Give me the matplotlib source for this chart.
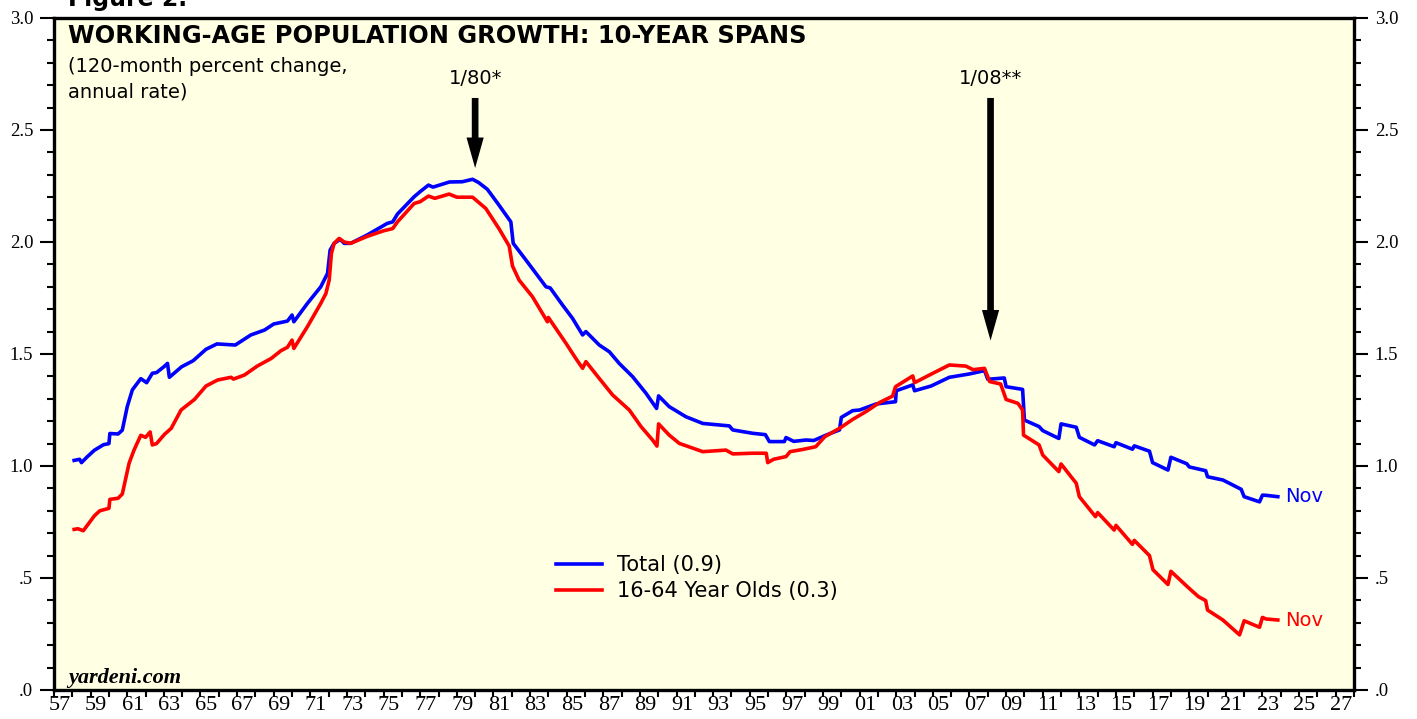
import numpy as np
import matplotlib.pyplot as plt

# 120-month percent change, annual rate
total_years = [1958.1, 1958.4, 1958.5, 1958.8, 1959.2, 1959.7, 1960.0, 1960.05, 1960.5, 1960.73,
               1961.0, 1961.28, 1961.74, 1962.06, 1962.37, 1962.6, 1963.0, 1963.2, 1963.3, 1963.97,
               1964.6, 1965.3, 1965.9, 1966.9, 1967.75, 1968.5, 1969.0, 1969.75, 1970.0, 1970.1,
               1970.84, 1971.57, 1971.94, 1972.08, 1972.3, 1972.63, 1972.85, 1973.2, 1974.1, 1975.2,
               1975.5, 1975.76, 1976.67, 1977.0, 1977.45, 1977.7, 1978.6, 1979.3, 1979.86, 1980.2,
               1980.67, 1981.3, 1981.95, 1982.08, 1982.77, 1983.32, 1983.87, 1984.1, 1984.77, 1985.32,
               1985.87, 1986.05, 1986.78, 1987.33, 1987.87, 1988.6, 1989.33, 1989.91, 1990.02, 1990.6,
               1991.51, 1992.43, 1993.88, 1994.07, 1995.16, 1995.85, 1996.07, 1996.89, 1996.98, 1997.4,
               1998.07, 1998.5, 1999.17, 1999.9, 2000.0, 2000.62, 2001.0, 2001.9, 2002.96, 2003.0,
               2003.9, 2004.0, 2004.9, 2005.9, 2007.0, 2007.82, 2008.0, 2008.9, 2009.0, 2009.9,
               2010.0, 2010.8, 2011.0, 2011.88, 2012.0, 2012.83, 2013.0, 2013.83, 2014.0, 2014.9,
               2015.0, 2015.9, 2016.0, 2016.83, 2017.0, 2017.84, 2018.0, 2018.87, 2019.0, 2019.9,
               2020.0, 2020.84, 2021.84, 2022.0, 2022.84, 2023.0, 2023.2, 2023.84]
total_vals = [1.025, 1.03, 1.015, 1.04, 1.07, 1.095, 1.10, 1.145, 1.143, 1.16,
              1.265, 1.34, 1.39, 1.372, 1.414, 1.417, 1.443, 1.458, 1.396, 1.443,
              1.47, 1.521, 1.545, 1.54, 1.585, 1.607, 1.634, 1.647, 1.674, 1.644,
              1.726, 1.80, 1.86, 1.964, 1.994, 2.012, 1.994, 1.994, 2.031, 2.083,
              2.09, 2.125, 2.202, 2.225, 2.254, 2.245, 2.268, 2.269, 2.28, 2.265,
              2.235, 2.165, 2.09, 1.994, 1.92, 1.86, 1.80, 1.795, 1.719, 1.659,
              1.585, 1.60, 1.54, 1.51, 1.458, 1.399, 1.325, 1.257, 1.313, 1.265,
              1.22, 1.19, 1.179, 1.161, 1.146, 1.14, 1.109, 1.109, 1.127, 1.11,
              1.116, 1.114, 1.138, 1.161, 1.217, 1.247, 1.25, 1.277, 1.287, 1.336,
              1.362, 1.336, 1.357, 1.396, 1.411, 1.426, 1.387, 1.393, 1.354, 1.342,
              1.205, 1.176, 1.158, 1.123, 1.188, 1.173, 1.128, 1.094, 1.113, 1.086,
              1.104, 1.075, 1.09, 1.066, 1.015, 0.982, 1.039, 1.01, 0.996, 0.979,
              0.952, 0.9375, 0.896, 0.863, 0.84, 0.87, 0.869, 0.863]

core_years = [1958.1, 1958.3, 1958.6, 1959.2, 1959.5, 1960.0, 1960.05, 1960.5, 1960.73, 1961.1,
              1961.37, 1961.74, 1962.0, 1962.25, 1962.37, 1962.6, 1963.03, 1963.4, 1963.94, 1964.67,
              1965.3, 1965.94, 1966.67, 1966.8, 1967.4, 1968.1, 1968.86, 1969.4, 1969.75, 1970.0,
              1970.1, 1970.84, 1971.57, 1971.85, 1972.03, 1972.15, 1972.3, 1972.57, 1972.85, 1973.2,
              1974.1, 1975.0, 1975.5, 1975.76, 1976.67, 1977.0, 1977.45, 1977.8, 1978.58, 1979.0,
              1979.86, 1980.58, 1981.3, 1981.86, 1982.04, 1982.4, 1983.13, 1983.95, 1984.0, 1984.96,
              1985.5, 1985.87, 1986.05, 1986.78, 1987.51, 1988.42, 1989.06, 1989.69, 1989.93, 1990.02,
              1990.6, 1991.15, 1992.43, 1993.7, 1994.07, 1995.16, 1995.9, 1995.98, 1996.3, 1996.98,
              1997.2, 1997.9, 1998.6, 1999.1, 1999.9, 2000.62, 2001.35, 2002.08, 2002.8, 2002.96,
              2003.9, 2004.0, 2005.0, 2005.9, 2006.8, 2007.2, 2007.82, 2008.1, 2008.7, 2009.0,
              2009.64, 2009.9, 2009.95, 2010.8, 2011.0, 2011.88, 2012.0, 2012.83, 2013.0, 2013.88,
              2014.0, 2014.9, 2015.0, 2015.9, 2016.0, 2016.83, 2017.02, 2017.84, 2018.0, 2018.9,
              2019.5, 2019.9, 2020.0, 2020.84, 2021.75, 2022.0, 2022.84, 2023.0, 2023.2, 2023.84]
core_vals = [0.717, 0.72, 0.711, 0.777, 0.80, 0.811, 0.851, 0.856, 0.875, 1.012,
             1.071, 1.137, 1.128, 1.152, 1.094, 1.10, 1.141, 1.168, 1.25, 1.297,
             1.357, 1.384, 1.396, 1.388, 1.406, 1.446, 1.48, 1.515, 1.53, 1.562,
             1.525, 1.622, 1.726, 1.77, 1.83, 1.949, 1.994, 2.016, 2.0, 1.994,
             2.025, 2.05, 2.06, 2.09, 2.172, 2.18, 2.205, 2.195, 2.214, 2.20,
             2.20, 2.15, 2.06, 1.982, 1.893, 1.83, 1.756, 1.644, 1.663, 1.548,
             1.48, 1.436, 1.466, 1.391, 1.317, 1.25, 1.176, 1.116, 1.089, 1.188,
             1.138, 1.101, 1.064, 1.071, 1.054, 1.057, 1.057, 1.015, 1.03, 1.042,
             1.064, 1.074, 1.086, 1.131, 1.168, 1.208, 1.243, 1.283, 1.312, 1.354,
             1.402, 1.372, 1.414, 1.451, 1.446, 1.43, 1.436, 1.377, 1.366, 1.297,
             1.28, 1.25, 1.138, 1.094, 1.049, 0.975, 1.009, 0.923, 0.863, 0.774,
             0.792, 0.714, 0.735, 0.65, 0.668, 0.60, 0.537, 0.471, 0.53, 0.461,
             0.417, 0.399, 0.357, 0.3125, 0.246, 0.309, 0.28, 0.324, 0.317, 0.3125]

series_labels = ['Total (0.9)', '16-64 Year Olds (0.3)']
ytick_vals = [0.0, 0.5, 1.0, 1.5, 2.0, 2.5, 3.0]
ytick_text = ['.0', '.5', '1.0', '1.5', '2.0', '2.5', '3.0']

W, H = 1417, 719
fig = plt.figure(figsize=(W / 100, H / 100), dpi=100)
ax = fig.add_axes([54 / W, 1 - 690 / H, (1354 - 54) / W, (690 - 18) / H])
ax.set_facecolor('#FFFFE4')

l1, = ax.plot(total_years, total_vals, color='#0000FF', lw=2.6, label=series_labels[0])
l2, = ax.plot(core_years, core_vals, color='#FF0000', lw=2.6, label=series_labels[1])

ax.set_xlim(1957, 2028)
ax.set_ylim(0, 3)

# y axis: labels both sides
ax.set_yticks(ytick_vals)
ax.set_yticklabels(ytick_text, fontfamily='Liberation Serif', fontsize=13.5)
ax.set_yticks(np.arange(0, 3.01, 0.1), minor=True)
ax.tick_params(axis='y', which='major', length=10, width=1.5, direction='out',
               left=True, right=True, labelleft=True, labelright=True, pad=5)
ax.tick_params(axis='y', which='minor', length=5, width=1.5, direction='out',
               left=True, right=True)

# x axis: tick every year, labels on odd years
years = np.arange(1957, 2029)
ax.set_xticks(years)
ax.set_xticklabels([''] * len(years))
odd = [y for y in years if y % 2 == 1]
ax.set_xticks([y + 0.3 for y in odd], minor=True)
ax.set_xticklabels(['%02d' % (y % 100) for y in odd], minor=True,
                   fontfamily='Liberation Serif', fontsize=16)
ax.tick_params(axis='x', which='major', length=5, width=1.5, direction='out')
ax.tick_params(axis='x', which='minor', length=0, pad=4)

for sp in ax.spines.values():
    sp.set_linewidth(2.4)

# titles
fig.text(68 / W, 1 - 6 / H, 'Figure 2.', fontsize=17, fontweight='bold', va='baseline')
fig.text(68 / W, 1 - 43 / H, 'WORKING-AGE POPULATION GROWTH: 10-YEAR SPANS',
         fontsize=17.4, fontweight='bold', va='baseline')
fig.text(68 / W, 1 - 72 / H, '(120-month percent change,', fontsize=14, va='baseline')
fig.text(68 / W, 1 - 97 / H, 'annual rate)', fontsize=14, va='baseline')
fig.text(68 / W, 1 - 683 / H, 'yardeni.com', fontsize=16, fontweight='bold',
         fontstyle='italic', family='Liberation Serif', va='baseline')

# arrows
arrow_kw = dict(arrowstyle='simple,head_length=1.1,head_width=0.62,tail_width=0.24',
                fc='black', ec='none', lw=0, shrinkA=0, shrinkB=0, mutation_scale=20)
ax.annotate('', xy=(1980.0, 2.33), xytext=(1980.0, 2.643), arrowprops=arrow_kw)
ax.text(1980.0, 2.732, '1/80*', fontsize=14, ha='center', va='center')
ax.annotate('', xy=(2008.15, 1.56), xytext=(2008.15, 2.643), arrowprops=arrow_kw)
ax.text(2008.15, 2.732, '1/08**', fontsize=14, ha='center', va='center')

# end labels
ax.annotate('Nov', xy=(total_years[-1], total_vals[-1]), xytext=(5, 0),
            textcoords='offset points', va='center', color='#0000FF', fontsize=14)
ax.annotate('Nov', xy=(core_years[-1], core_vals[-1]), xytext=(5, 0),
            textcoords='offset points', va='center', color='#FF0000', fontsize=14)

ax.legend(handles=[l1, l2], loc='upper left', bbox_to_anchor=(556 / W, 1 - 555 / H),
          bbox_transform=fig.transFigure, frameon=False, fontsize=15,
          handlelength=2.2, handletextpad=0.75, labelspacing=0.3,
          borderpad=0, borderaxespad=0)

fig.savefig('out.png', dpi=100)
